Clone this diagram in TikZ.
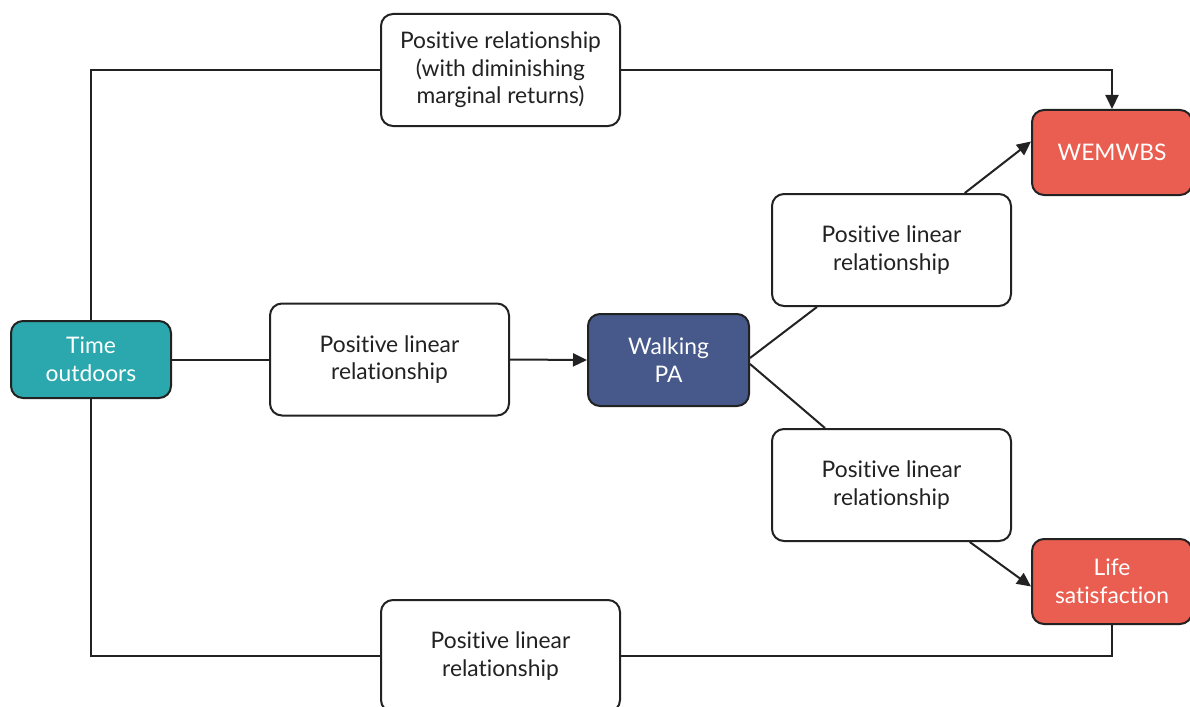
\documentclass[tikz,border=0pt]{standalone}
\usepackage{fontspec}
\setmainfont{Lato}[Ligatures=NoCommon]
\usetikzlibrary{arrows.meta}

\definecolor{timeteal}{RGB}{42,168,174}
\definecolor{walknavy}{RGB}{70,89,138}
\definecolor{outred}{RGB}{233,94,80}
\definecolor{linegray}{RGB}{34,34,34}

\tikzset{
  relbox/.style={draw=linegray, line width=2pt, rounded corners=12pt, fill=white,
    minimum width=239pt, minimum height=112pt, align=center, text=linegray,
    font=\fontsize{22.8}{27.5}\selectfont},
  varbox/.style={draw=linegray, line width=2pt, rounded corners=12pt,
    minimum width=160pt, minimum height=77pt, align=center, text=white,
    font=\fontsize{22.8}{27.5}\selectfont},
  link/.style={line width=2pt, draw=linegray}
}

\begin{document}
\begin{tikzpicture}[x=1pt, y=-1pt, >={Triangle[length=14pt,width=13pt]}]
  \useasboundingbox (0,0) rectangle (1190,706);

  % Variables
  \node[varbox, fill=timeteal] (time) at (91,359.5) {Time\\outdoors};
  \node[varbox, fill=walknavy, minimum width=161pt, minimum height=92pt] (walk) at (668.5,360) {Walking\\PA};
  \node[varbox, fill=outred, minimum height=85pt] (wem) at (1112,152.5) {WEMWBS};
  \node[varbox, fill=outred, minimum height=85pt] (life) at (1112,581.5) {Life\\satisfaction};

  % Relationship labels
  \node[relbox] (relTop) at (500.5,70) {Positive relationship\\(with diminishing\\marginal returns)};
  \node[relbox] (relWalk) at (389.5,359.5) {Positive linear\\relationship};
  \node[relbox] (relWem) at (891.5,250) {Positive linear\\relationship};
  \node[relbox] (relLife) at (891.5,485) {Positive linear\\relationship};
  \node[relbox] (relBottom) at (500.5,656) {Positive linear\\relationship};

  % Direct paths
  \draw[link] (time.north) |- (relTop.west);
  \draw[link, ->] (relTop.east) -| (wem.north);
  \draw[link] (time.south) |- (relBottom.west);
  \draw[link] (relBottom.east) -| (life.south);

  % Paths through walking
  \draw[link] (time.east) -- (relWalk.west);
  \draw[link, ->] (relWalk.east) -- (walk.west);
  \draw[link] ([yshift=2pt]walk.east) -- (relWem);
  \draw[link, ->] (relWem) -- ([yshift=11pt]wem.west);
  \draw[link] ([yshift=-4pt]walk.east) -- (relLife);
  \draw[link, ->] (relLife) -- ([yshift=-5pt]life.west);
\end{tikzpicture}
\end{document}
